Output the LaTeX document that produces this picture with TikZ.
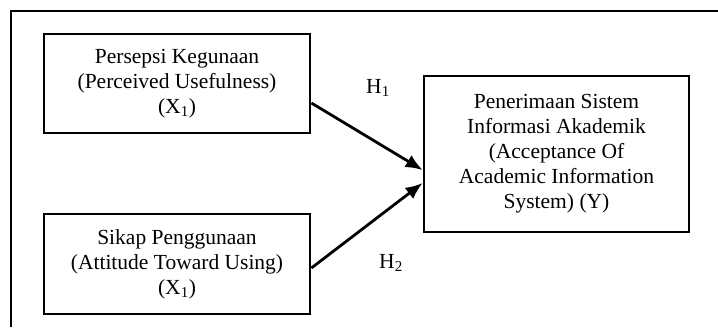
\documentclass[tikz,border=0pt]{standalone}
\usepackage{fontspec}
\setmainfont{Liberation Serif}
\usetikzlibrary{arrows.meta}
\begin{document}
\begin{tikzpicture}[x=1pt,y=-1pt,
  box/.style={draw,line width=2.8pt,align=center,inner sep=0pt,
    font=\fontsize{21.5}{25}\selectfont},
  lbl/.style={font=\fontsize{21.5}{25}\selectfont,inner sep=0pt},
  conn/.style={line width=2.8pt,-{Latex[length=17pt,width=14pt]}}]
\useasboundingbox (0,0) rectangle (718,327);
\draw[line width=2.4pt] (11,327) -- (11,11) -- (718,11);
\node[box,minimum width=266pt,minimum height=99pt] (p1) at (177,83.5)
  {Persepsi Kegunaan\\(Perceived Usefulness)\\(X\textsubscript{1})};
\node[box,minimum width=266pt,minimum height=100pt] (p2) at (177,264)
  {Sikap Penggunaan\\(Attitude Toward Using)\\(X\textsubscript{1})};
\node[box,minimum width=265pt,minimum height=156pt] (y) at (556.5,154)
  {Penerimaan Sistem\\Informasi Akademik\\(Acceptance Of\\Academic Information\\System) (Y)};
\draw[conn] ([yshift=-19.5pt]p1.east) -- ([yshift=-16pt]y.west);
\draw[conn] ([yshift=-4pt]p2.east) -- ([yshift=-29pt]y.west);
\node[lbl] (h1) at (378,88) {H\textsubscript{1}};
\node[lbl] (h2) at (391,263) {H\textsubscript{2}};
\end{tikzpicture}
\end{document}
